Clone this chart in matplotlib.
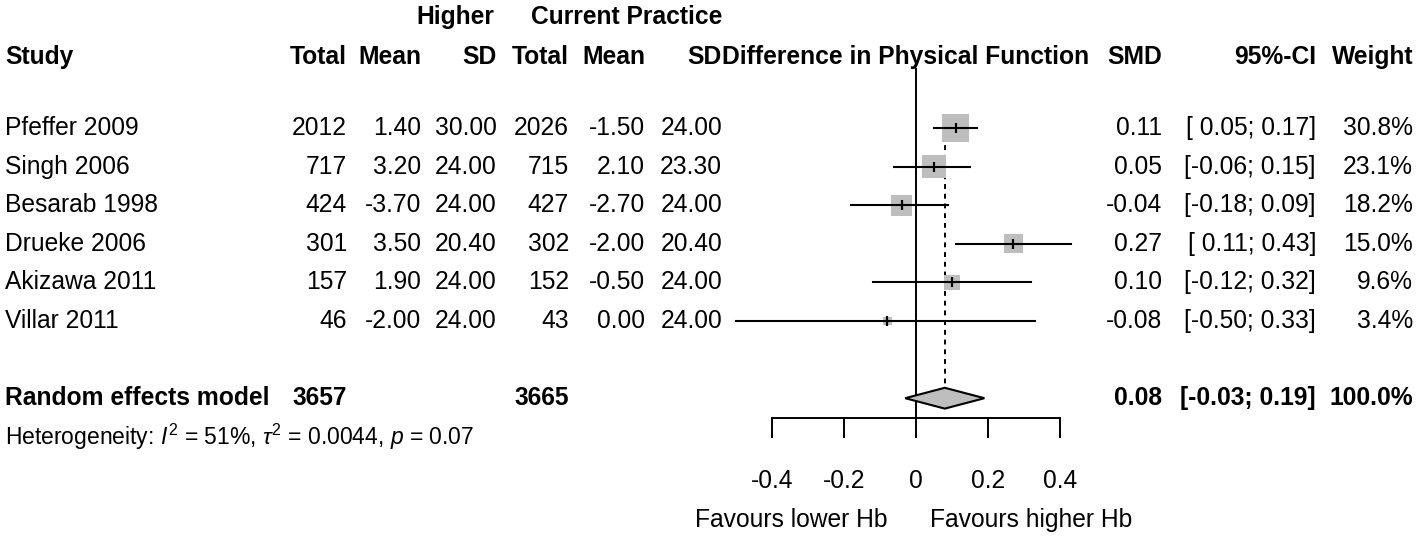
import numpy as np
import matplotlib
matplotlib.use('Agg')
import matplotlib.pyplot as plt
from matplotlib import font_manager
from matplotlib.patches import Polygon

# data
studies = ['Pfeffer 2009', 'Singh 2006', 'Besarab 1998', 'Drueke 2006', 'Akizawa 2011', 'Villar 2011']
n_high = [2012, 717, 424, 301, 157, 46]
mean_high = [1.40, 3.20, -3.70, 3.50, 1.90, -2.00]
sd_high = [30.00, 24.00, 24.00, 20.40, 24.00, 24.00]
n_curr = [2026, 715, 427, 302, 152, 43]
mean_curr = [-1.50, 2.10, -2.70, -2.00, -0.50, 0.00]
sd_curr = [24.00, 23.30, 24.00, 20.40, 24.00, 24.00]
smd = [0.11, 0.05, -0.04, 0.27, 0.10, -0.08]
ci_low = [0.05, -0.06, -0.18, 0.11, -0.12, -0.50]
ci_high = [0.17, 0.15, 0.09, 0.43, 0.32, 0.33]
weight = [30.8, 23.1, 18.2, 15.0, 9.6, 3.4]
pooled_smd, pooled_low, pooled_high = 0.08, -0.03, 0.19
total_high, total_curr = 3657, 3665
xticks = [-0.4, -0.2, 0, 0.2, 0.4]
xticklabels = ['-0.4', '-0.2', '0', '0.2', '0.4']

names = {f.name for f in font_manager.fontManager.ttflist}
FONT = 'Liberation Sans Narrow' if 'Liberation Sans Narrow' in names else 'Liberation Sans'
plt.rcParams['font.family'] = [FONT, 'DejaVu Sans']
plt.rcParams['mathtext.fontset'] = 'custom'
plt.rcParams['mathtext.rm'] = FONT
plt.rcParams['mathtext.it'] = FONT + ':italic'
FS = 20 if FONT == 'Liberation Sans Narrow' else 17.7

W, H = 1418, 538
fig = plt.figure(figsize=(W / 100, H / 100), dpi=100)
ax = fig.add_axes([0, 0, 1, 1])

# 360 px per SMD unit, zero at x=916 px; one row = 38.6 px, first study at y=128 px
ax.set_xlim(-916 / 360, (W - 916) / 360)
ax.set_ylim((H - 128) / 38.6, -128 / 38.6)

rows = np.arange(len(studies))
pooled_row = len(studies) + 1
het_row = pooled_row + 1
axis_row = pooled_row + 0.5
header_row = -1.84
group_row = -2.88

# CI lines, squares, point ticks
for r, lo, hi in zip(rows, ci_low, ci_high):
    ax.plot([lo, hi], [r, r], color='black', lw=1.5, zorder=3)
sizes = (4.87 * np.sqrt(weight) * 0.72) ** 2
ax.scatter(smd, rows, s=sizes, marker='s', color='#BEBEBE', edgecolors='none', zorder=2)
ax.scatter(smd, rows, s=60, marker='|', color='black', linewidths=1.6, zorder=4)

# reference lines
ax.plot([0, 0], [header_row + 0.31, axis_row], color='black', lw=1.4, zorder=1)
ax.plot([pooled_smd, pooled_smd], [-0.3, pooled_row - 0.27], color='black', lw=1.4,
        linestyle=(0, (2.5, 2.5)), zorder=1)

# diamond
h = 0.27
diamond = Polygon([[pooled_low, pooled_row], [pooled_smd, pooled_row - h],
                   [pooled_high, pooled_row], [pooled_smd, pooled_row + h]],
                  closed=True, facecolor='#BEBEBE', edgecolor='black', lw=1.5, zorder=3)
ax.add_patch(diamond)

# x axis
for s in ['top', 'left', 'right']:
    ax.spines[s].set_visible(False)
ax.spines['bottom'].set_position(('data', axis_row))
ax.spines['bottom'].set_bounds(xticks[0], xticks[-1])
ax.spines['bottom'].set_linewidth(1.4)
ax.set_xticks(xticks)
ax.set_xticklabels(xticklabels)
ax.tick_params(axis='x', direction='out', length=14.4, width=1.4, pad=23, labelsize=FS)
ax.set_yticks([])
ax.patch.set_visible(False)

ax.text(-0.078, 10.16, 'Favours lower Hb', ha='right', va='center', fontsize=FS)
ax.text(0.039, 10.16, 'Favours higher Hb', ha='left', va='center', fontsize=FS)

# text columns (right edges in px)
tr = ax.get_yaxis_transform()
def col(px):
    return px / W

def put(px, y, s, ha='right', bold=False):
    ax.text(col(px), y, s, transform=tr, ha=ha, va='center', fontsize=FS,
            fontweight='bold' if bold else 'normal')

put(494, group_row, 'Higher', bold=True)
put(722, group_row, 'Current Practice', bold=True)

put(5, header_row, 'Study', ha='left', bold=True)
for px, lab in [(347, 'Total'), (421, 'Mean'), (497, 'SD'), (569, 'Total'),
                (645, 'Mean'), (722, 'SD'), (1162, 'SMD'), (1316, '95%-CI'), (1413, 'Weight')]:
    put(px, header_row, lab, bold=True)
put(722, header_row, 'Difference in Physical Function', ha='left', bold=True)

def ci_text(lo, hi):
    los = f'{lo:.2f}' if lo < 0 else f' {lo:.2f}'
    return f'[{los}; {hi:.2f}]'

for r in rows:
    put(5, r, studies[r], ha='left')
    put(347, r, str(n_high[r]))
    put(421, r, f'{mean_high[r]:.2f}')
    put(497, r, f'{sd_high[r]:.2f}')
    put(569, r, str(n_curr[r]))
    put(645, r, f'{mean_curr[r]:.2f}')
    put(722, r, f'{sd_curr[r]:.2f}')
    put(1162, r, f'{smd[r]:.2f}')
    put(1316, r, ci_text(ci_low[r], ci_high[r]))
    put(1413, r, f'{weight[r]:.1f}%')

put(5, pooled_row, 'Random effects model', ha='left', bold=True)
put(347, pooled_row, str(total_high), bold=True)
put(569, pooled_row, str(total_curr), bold=True)
put(1162, pooled_row, f'{pooled_smd:.2f}', bold=True)
put(1316, pooled_row, ci_text(pooled_low, pooled_high), bold=True)
put(1413, pooled_row, '100.0%', bold=True)

ax.text(col(5), het_row, r'Heterogeneity: $\mathit{I}^2$ = 51%, $\tau^2$ = 0.0044, $\mathit{p}$ = 0.07',
        transform=tr, ha='left', va='center', fontsize=FS * 0.93)

fig.savefig('out.png', dpi=100)
